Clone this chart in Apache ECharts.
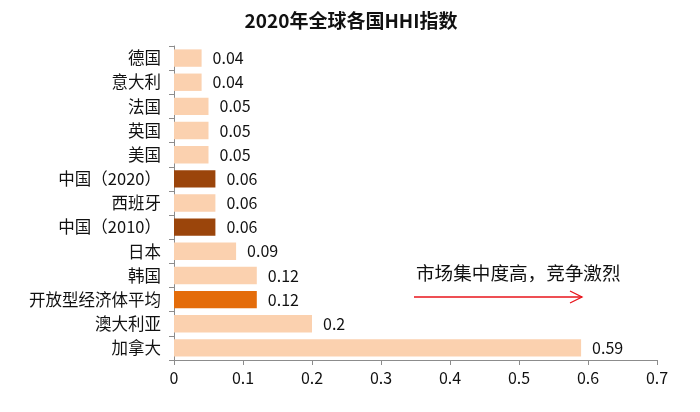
<!DOCTYPE html>
<html>
<head>
<meta charset="utf-8">
<script src="https://cdn.jsdelivr.net/npm/echarts@6/dist/echarts.min.js"></script>
<style>
html,body{margin:0;padding:0;background:#fff;}
#chart{width:700px;height:412px;}
</style>
</head>
<body>
<div id="chart"></div>
<script>
var categories = ['德国','意大利','法国','英国','美国','中国（2020）','西班牙','中国（2010）','日本','韩国','开放型经济体平均','澳大利亚','加拿大'];
var values = [0.04,0.04,0.05,0.05,0.05,0.06,0.06,0.06,0.09,0.12,0.12,0.2,0.59];
var barColors = ['#FBD1AF','#FBD1AF','#FBD1AF','#FBD1AF','#FBD1AF','#9B450B','#FBD1AF','#9B450B','#FBD1AF','#FBD1AF','#E46C0A','#FBD1AF','#FBD1AF'];
var xTicks = [0,0.1,0.2,0.3,0.4,0.5,0.6,0.7];
var titleText = '2020年全球各国HHI指数';
var noteText = '市场集中度高，竞争激烈';

var FONT = '"Noto Sans CJK SC", "Noto Sans", sans-serif';
var chart = echarts.init(document.getElementById('chart'));
chart.setOption({
  animation: false,
  title: {
    text: titleText,
    left: 346, top: 6, textAlign: 'center',
    textStyle: {fontFamily: FONT, fontSize: 19, fontWeight: 'bold', color: '#111'}
  },
  grid: {left: 174, right: 43, top: 46, bottom: 52, containLabel: false},
  xAxis: {
    type: 'value', min: xTicks[0], max: xTicks[xTicks.length - 1], interval: 0.1,
    axisLine: {show: true, lineStyle: {color: '#8c8c8c'}},
    axisTick: {show: true, length: 5, lineStyle: {color: '#8c8c8c'}},
    splitLine: {show: false},
    axisLabel: {
      margin: 10, fontFamily: FONT, fontSize: 16, color: '#111',
      formatter: function (v) { return String(Math.round(v * 10) / 10); }
    }
  },
  yAxis: {
    type: 'category', data: categories, inverse: true,
    axisLine: {show: true, lineStyle: {color: '#8c8c8c'}},
    axisTick: {show: true, length: 5, lineStyle: {color: '#8c8c8c'}},
    axisLabel: {margin: 13, fontFamily: FONT, fontSize: 16.5, color: '#111'}
  },
  series: [{
    type: 'bar',
    data: values.map(function (v, i) { return {value: v, itemStyle: {color: barColors[i]}}; }),
    barCategoryGap: '28%',
    label: {
      show: true, position: 'right', distance: 11,
      fontFamily: FONT, fontSize: 16, color: '#111',
      formatter: function (p) { return String(p.value); }
    }
  }],
  graphic: [
    {type: 'text', left: 416, top: 264, style: {text: noteText, font: '18.6px ' + FONT, fill: '#111'}},
    {type: 'line', shape: {x1: 414, y1: 297, x2: 582, y2: 297}, style: {stroke: '#E8141B', lineWidth: 1.3}},
    {type: 'polyline', shape: {points: [[570, 291], [582, 297], [570, 303]]}, style: {stroke: '#E8141B', lineWidth: 1.3, fill: null}}
  ]
});
</script>
</body>
</html>
